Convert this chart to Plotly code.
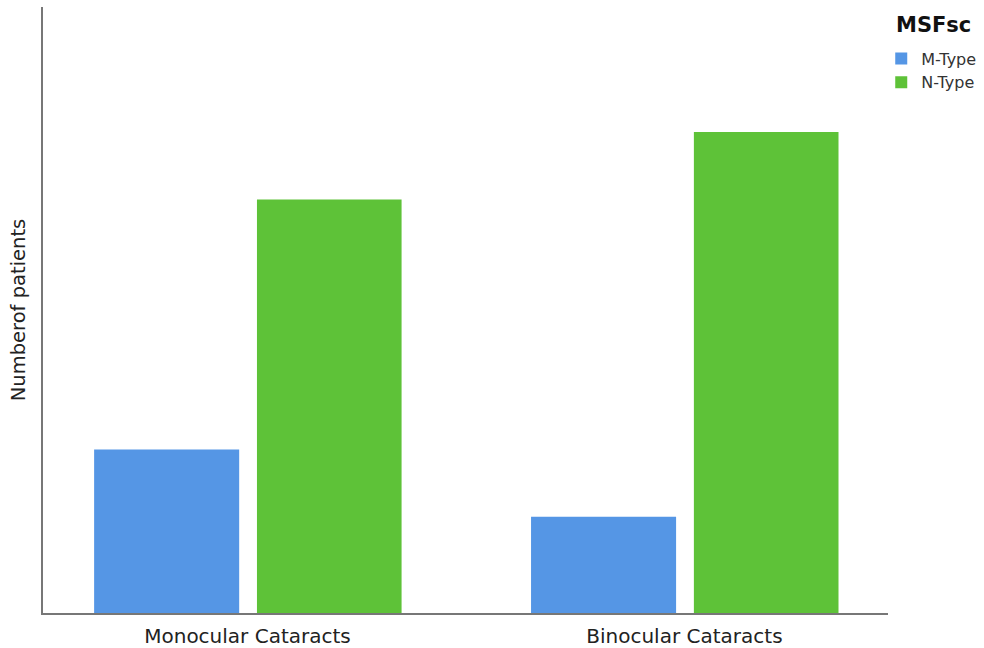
import plotly.graph_objects as go

# Patient counts by cataract type and MSFsc group
categories = ["Monocular Cataracts", "Binocular Cataracts"]
m_type = [17, 10]
n_type = [43, 50]

blue = "#5596E5"
green = "#5EC238"
font_family = "DejaVu Sans, Verdana, sans-serif"

fig = go.Figure()
fig.add_trace(go.Bar(
    x=categories, y=m_type, name="M-Type",
    marker=dict(color=blue, line=dict(width=0)),
    width=0.332, offset=-0.351,
))
fig.add_trace(go.Bar(
    x=categories, y=n_type, name="N-Type",
    marker=dict(color=green, line=dict(width=0)),
    width=0.331, offset=0.0217,
))

fig.update_layout(
    width=984, height=648,
    margin=dict(l=43, r=96, t=7, b=35, autoexpand=False),
    paper_bgcolor="white", plot_bgcolor="white",
    barmode="overlay",
    showlegend=True,
    font=dict(family=font_family, color="#222222"),
    legend=dict(
        x=0.992, xanchor="left", y=0.943, yanchor="top",
        font=dict(size=16, color="#333333"),
        bgcolor="rgba(0,0,0,0)",
        itemwidth=30,
    ),
    xaxis=dict(
        type="category",
        range=[-0.468, 1.466],
        showline=True, linecolor="#777777", linewidth=2,
        showgrid=False, ticks="",
        tickfont=dict(size=20, color="#222222"),
        ticklabelstandoff=4,
        zeroline=False,
    ),
    yaxis=dict(
        range=[0, 63],
        showline=True, linecolor="#777777", linewidth=2,
        showgrid=False, showticklabels=False, ticks="",
        zeroline=False,
        title=dict(text="Numberof patients", font=dict(size=19.5, color="#222222"), standoff=10),
    ),
    annotations=[dict(
        text="<b>MSFsc</b>", xref="paper", yref="paper",
        x=1.0544, y=0.970, xanchor="center", yanchor="middle",
        showarrow=False, font=dict(size=21, color="#111111"),
    )],
)

fig.write_html("out.html")
